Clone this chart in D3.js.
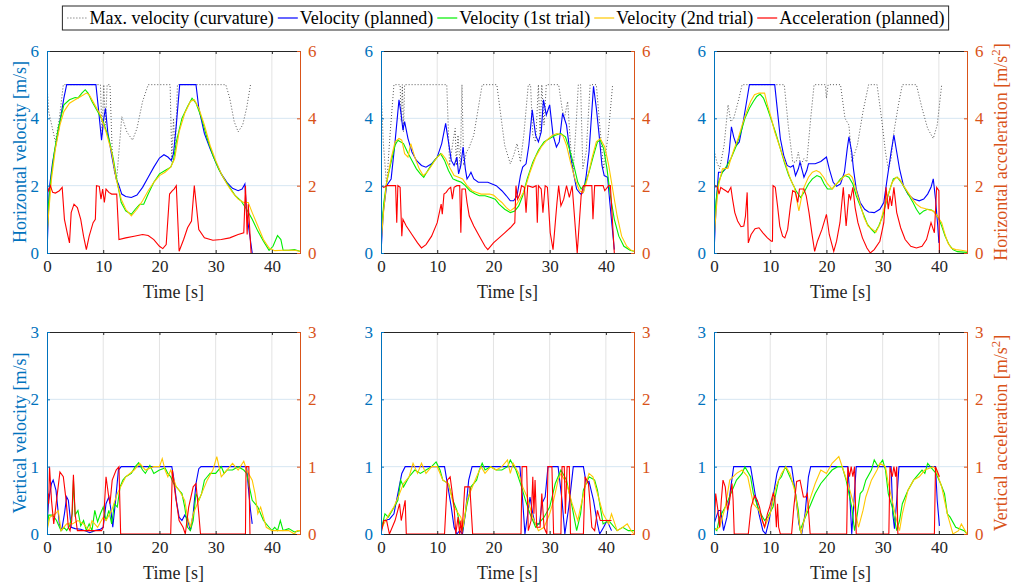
<!DOCTYPE html>
<html>
<head>
<meta charset="utf-8">
<script src="https://cdnjs.cloudflare.com/ajax/libs/d3/7.8.5/d3.min.js"></script>
<style>
body{margin:0;background:#fff}
svg{display:block}
text{font-family:"Liberation Serif","Times New Roman",serif}
</style>
</head>
<body>
<div id="chart"></div>
<script>
// ---- data: [time s, value] ----
// top row: horizontal velocity (left axis) / horizontal acceleration (right axis)
var h1_max = [[0,5],[0.3,4.2],[1.5,3.3],[2.2,4],[2.9,5],[9.5,5],[9.8,3.5],[10.1,5],[10.4,3.8],[10.7,5],[11.2,5],[11.6,3],[12,2.4],[12.4,2.2],[13.3,4.05],[14.2,3.6],[15.2,3.35],[16,3.7],[17,4.5],[18,5],[21.9,5],[22.2,2.7],[22.5,4],[22.8,2.9],[23.2,5],[31.8,5],[32.5,4.6],[33.3,3.9],[34,3.6],[34.8,3.8],[35.5,4.3],[36.2,5]];
var h1_plan = [[0,0],[0.4,1.9],[1,2.7],[2,3.6],[3,4.6],[3.5,5],[8.7,5],[9.2,4.2],[9.7,3.35],[10.1,4],[10.4,4.3],[10.8,3.6],[11.5,2.9],[12.3,2.2],[12.7,2.05],[13.3,1.75],[14,1.68],[15,1.65],[16,1.72],[17,1.95],[18,2.25],[19,2.55],[20,2.82],[20.8,2.92],[21.5,2.85],[22.1,2.75],[22.5,2.95],[23,3.8],[23.6,5],[26.5,5],[27,4.3],[28,3.55],[29,3.1],[30,2.7],[31,2.35],[32,2.1],[33,1.92],[34,1.85],[34.7,1.9],[35.2,2.05],[35.5,1.2],[36.5,0]];
var h1_t1 = [[0,0.5],[0.3,1.5],[0.7,2.2],[1.3,3.0],[2,3.7],[3,4.4],[4,4.55],[5,4.62],[5.5,4.6],[6.2,4.75],[6.8,4.85],[7.3,4.75],[8,4.5],[9,4.2],[10,3.9],[11,3.4],[11.8,2.8],[12.5,2.1],[13.2,1.5],[14,1.25],[15,1.15],[15.7,1.3],[16.5,1.45],[17.2,1.45],[18,1.75],[19,2.1],[20,2.35],[21,2.45],[22,2.55],[22.5,2.75],[23,3.3],[24,4.0],[25,4.35],[25.8,4.6],[26.5,4.45],[27.5,4.0],[28.5,3.4],[29.5,2.9],[30.5,2.5],[31.5,2.2],[32.5,1.95],[33.5,1.7],[34.5,1.55],[35.5,1.3],[36.5,1.0],[37.5,0.65],[38.5,0.35],[39.5,0.08],[40.2,0.2],[41,0.52],[41.6,0.4],[42,0.08],[43,0.08],[44,0.1],[45,0.05]];
var h1_t2 = [[0,0.5],[0.3,1.2],[0.8,2.2],[1.5,3.1],[2.3,3.8],[3,4.2],[4,4.45],[5,4.55],[6,4.65],[7,4.75],[7.5,4.7],[8.5,4.4],[9.5,4.1],[10.5,3.6],[11.5,3.0],[12.3,2.2],[13.2,1.6],[14,1.3],[15,1.1],[16,1.3],[17,1.55],[18,1.85],[19,2.1],[20,2.3],[21,2.4],[22,2.55],[22.7,2.8],[23.5,3.6],[24.5,4.15],[25.5,4.5],[26.2,4.55],[27,4.3],[28,3.8],[29,3.2],[30,2.75],[31,2.35],[32,2.05],[33,1.8],[34,1.6],[35,1.5],[35.8,1.5],[36.5,1.2],[37.5,0.8],[38.5,0.4],[39.5,0.15],[40.5,0.07],[42,0.08],[44,0.08],[45,0.05]];
var h1_acc = [[0,2.0],[0.3,1.85],[0.6,2.0],[1,1.8],[1.5,1.78],[2.2,1.85],[2.7,1.95],[3.1,1.0],[3.6,0.6],[4,0.3],[4.3,1.2],[4.8,1.45],[5.4,1.35],[6,1.0],[6.5,0.5],[7,0.1],[7.5,0.5],[8.2,0.9],[8.6,1.0],[8.8,2.0],[9.3,1.98],[9.6,1.6],[9.9,1.9],[10.2,1.5],[10.5,1.9],[11,1.8],[11.5,1.75],[12.4,1.75],[12.8,0.4],[14,0.45],[15.5,0.5],[17,0.55],[18,0.52],[19,0.4],[20,0.2],[20.6,0.13],[21.2,0.25],[21.8,1.75],[22.3,1.85],[22.6,1.9],[23,2.0],[23.5,0.05],[24.3,0.4],[25,0.75],[25.7,0.95],[26.2,2.0],[27,0.7],[28,0.45],[29.5,0.38],[31,0.4],[32.5,0.45],[34,0.55],[35,0.6],[35.3,2.0],[35.6,0.55],[35.8,1.45],[36.3,0]];

var h2_max = [[0,5],[0.4,3.3],[1,2.0],[1.6,3.5],[2.3,5],[3.4,5],[3.6,3.9],[3.8,5],[4.0,3.6],[4.2,5],[11.7,5],[12.2,2.6],[12.8,3.3],[13.2,3.7],[13.4,2.6],[13.7,3.5],[14.1,2.5],[14.4,5],[14.7,2.6],[15.2,3.0],[15.6,3.1],[16.5,3.5],[17.3,4.3],[18,5],[20.6,5],[21.3,4.1],[22,3.2],[23,2.65],[23.6,2.9],[24.2,3.25],[24.8,2.7],[25.4,3.5],[26.2,5],[26.6,5],[27.0,3.5],[27.5,3.3],[28,5],[28.3,3.5],[28.6,5],[29,3.8],[29.4,5],[31.6,5],[32.2,4.3],[32.6,4.0],[33.2,4.5],[33.8,3.0],[34.2,2.5],[34.7,3.8],[35.1,5],[35.5,5],[35.9,2.5],[36.5,3.0],[37.2,5],[38.3,5],[38.8,4.0],[39.6,2.5],[40.4,3.5],[41.2,5]];
var h2_plan = [[0,0],[0.4,1.2],[1,2.0],[1.8,2.2],[2.5,3.3],[3.2,4.55],[3.6,4.1],[3.9,3.65],[4.2,3.9],[4.8,3.4],[5.5,3.0],[6.3,2.75],[7.2,2.6],[8,2.55],[9,2.65],[10,2.85],[10.8,3.25],[11.5,3.85],[12,3.3],[12.5,2.75],[13,2.6],[13.5,2.85],[13.8,2.35],[14.2,2.6],[14.6,3.15],[15,2.5],[15.3,2.2],[15.7,2.3],[16,2.4],[16.5,2.2],[17.3,2.1],[19,2.1],[20.5,2.0],[21.5,1.85],[22.3,1.7],[23,1.55],[23.6,1.55],[24.2,1.7],[24.8,2.3],[25.2,2.55],[25.8,2.65],[26.3,3.2],[26.9,4.25],[27.5,3.5],[28,3.3],[28.5,3.6],[28.9,4.55],[29.4,4.1],[30,4.4],[30.6,3.5],[31.2,3.15],[31.7,3.3],[32.3,4.15],[33,3.8],[33.6,3.0],[34.2,2.4],[34.8,1.9],[35.5,1.75],[36,1.8],[36.5,2.3],[37,3.0],[37.8,4.95],[38.3,4.3],[38.8,3.5],[39.3,2.6],[39.7,2.3],[40.3,2.25],[40.7,1.5],[41.5,0.1]];
var h2_t1 = [[0,0.5],[0.5,1.5],[1,2.1],[1.8,2.7],[2.5,3.2],[3,3.35],[4,3.25],[4.7,3.0],[5.5,2.75],[6.3,2.5],[7,2.35],[7.6,2.25],[8.5,2.5],[9.3,2.7],[10,2.85],[10.6,2.95],[11.3,2.75],[12,2.45],[12.8,2.2],[13.5,2.15],[14.3,2.1],[15,2.0],[15.8,1.85],[16.8,1.75],[17.5,1.7],[18.5,1.7],[19.5,1.65],[20.3,1.6],[21,1.45],[22,1.3],[23,1.2],[23.8,1.25],[24.5,1.4],[25.2,1.7],[26,2.2],[27,2.7],[28,3.05],[29,3.3],[30,3.4],[31,3.5],[32,3.55],[32.8,3.45],[33.5,3.1],[34.3,2.6],[35,2.1],[35.6,1.9],[36.3,2.05],[37,2.4],[37.8,2.9],[38.5,3.3],[39,3.35],[39.6,3.1],[40.2,2.5],[40.8,1.7],[41.5,1.0],[42.3,0.5],[43.2,0.2],[44.3,0.08],[45,0.05]];
var h2_t2 = [[0,0.3],[0.5,1.3],[1,2.1],[1.8,2.8],[2.5,3.3],[3.2,3.4],[3.7,3.35],[4.2,2.95],[4.8,2.85],[5.3,3.25],[6,2.85],[6.8,2.5],[7.5,2.3],[8.2,2.4],[9,2.6],[10,2.85],[10.8,2.95],[11.5,2.8],[12.2,2.55],[13,2.3],[13.8,2.25],[14.5,2.2],[15.3,2.0],[16.2,1.85],[17,1.8],[17.8,1.75],[18.5,1.75],[19.3,1.75],[20,1.72],[20.8,1.6],[21.5,1.5],[22.3,1.35],[23,1.25],[23.8,1.35],[24.5,1.55],[25.5,1.85],[26.5,2.4],[27.5,2.85],[28.5,3.15],[29.5,3.35],[30.5,3.5],[31.3,3.55],[32.3,3.5],[33,3.2],[33.7,2.7],[34.5,2.2],[35.3,1.85],[36,1.8],[36.7,2.2],[37.5,2.8],[38.3,3.3],[39,3.4],[39.8,3.15],[40.5,2.6],[41.2,1.9],[42,1.1],[42.8,0.5],[43.7,0.2],[44.5,0.08],[45,0.05]];
var h2_acc = [[0,2.0],[0.5,1.95],[1,2.0],[2.6,2.0],[2.8,0.9],[3.0,2.0],[3.4,1.95],[3.7,0.5],[3.9,1.0],[4.5,0.8],[5.5,0.55],[6.5,0.3],[7.2,0.15],[8,0.25],[9,0.5],[10,0.9],[10.7,1.45],[10.9,1.15],[11.2,1.75],[11.6,1.8],[12,1.9],[12.4,1.95],[12.7,1.6],[13,1.95],[13.5,2.0],[14,2.0],[14.2,0.6],[14.4,1.9],[15,1.9],[15.3,1.5],[15.7,1.1],[16.5,0.8],[17.5,0.5],[18.5,0.2],[19,0.1],[20,0.3],[21,0.45],[22,0.6],[23,0.75],[23.8,0.9],[24,2.0],[24.3,1.6],[24.7,1.75],[25,2.0],[25.5,1.95],[25.8,1.2],[26.1,2.0],[27,1.95],[27.6,2.0],[27.8,0.9],[28,2.0],[28.5,1.9],[28.8,1.2],[29.2,2.0],[29.6,1.95],[30.1,0.6],[30.6,0.1],[31.3,1.5],[31.6,2.0],[32,1.4],[32.5,1.6],[33,2.0],[33.5,1.65],[34,2.0],[34.9,0],[35.6,1.7],[36,2.0],[37.5,2.0],[37.7,1.0],[38,2.0],[39.5,2.0],[39.8,1.85],[40.5,2.0],[40.8,2.0],[41.5,0]];

var h3_max = [[0,5],[0.1,3.0],[0.5,2.7],[1,2.5],[1.8,3.2],[2.5,4.4],[3,3.9],[3.5,4.0],[4.3,4.5],[5,5],[12.5,5],[13.2,3.8],[14,2.7],[14.6,2.7],[15,3.0],[15.4,2.6],[16,2.8],[16.5,2.7],[17.2,4],[17.8,5],[19.8,5],[20,4.6],[20.3,5],[22.5,5],[23.3,4.0],[24.0,3.8],[24.2,3.4],[24.5,2.7],[25.5,3.2],[26.5,4.2],[27.5,5],[29,5],[29.8,4.0],[30.5,3.0],[31,2.5],[31.5,2.8],[32,3.6],[32.8,4.4],[33.5,5],[36,5],[37,4.3],[38,3.7],[39,3.4],[39.7,3.8],[40.5,5]];
var h3_plan = [[0,0],[0.4,1.5],[0.8,2.4],[1.5,2.4],[2.3,2.55],[2.7,3.0],[3.1,3.75],[3.5,3.45],[4,3.2],[4.5,3.3],[5.2,3.9],[5.8,4.5],[6.3,5],[10.8,5],[11.3,4.2],[11.8,3.4],[12.4,2.9],[13,2.6],[13.6,2.55],[14.1,2.6],[14.5,2.3],[15,2.5],[15.3,2.7],[15.7,2.45],[16,2.25],[16.5,2.45],[16.8,2.65],[18,2.65],[19,2.72],[20,2.85],[20.5,2.5],[21.2,2.1],[21.8,1.98],[22.5,2.05],[23.2,2.4],[23.7,3.1],[24,3.45],[24.5,3.0],[24.8,2.5],[25.3,1.9],[26,1.5],[26.8,1.3],[27.5,1.22],[28.5,1.2],[29.5,1.3],[30.2,1.5],[30.8,2.2],[31.5,3.0],[32,3.5],[32.5,3.0],[33,2.5],[33.7,2.0],[34.5,1.75],[35.5,1.6],[36.5,1.55],[37.3,1.6],[38,1.75],[38.6,1.95],[39,2.2],[39.4,1.6],[39.8,0.8],[40,0.3]];
var h3_t1 = [[0,0.8],[0.4,1.6],[0.8,2.1],[1.5,2.4],[2.3,2.6],[3,2.8],[4,3.2],[4.8,3.6],[5.5,4.0],[6.3,4.3],[7,4.5],[7.6,4.65],[8.2,4.72],[8.8,4.6],[9.5,4.3],[10.3,3.9],[11,3.55],[11.8,3.1],[12.5,2.7],[13.3,2.3],[14,2.05],[14.6,1.85],[15.4,1.65],[16,1.8],[16.8,2.05],[17.5,2.2],[18.3,2.3],[19,2.25],[19.6,2.05],[20.2,1.9],[21,1.9],[21.8,2.05],[22.5,2.2],[23.3,2.3],[24,2.25],[24.7,2.05],[25.3,1.7],[26,1.4],[26.7,1.1],[27.3,0.85],[28,0.7],[28.6,0.6],[29.3,0.8],[30,1.1],[30.7,1.55],[31.3,1.9],[31.9,2.2],[32.6,2.25],[33.3,2.1],[34,1.9],[34.7,1.7],[35.4,1.5],[36,1.3],[36.6,1.15],[37.3,1.25],[38,1.3],[38.7,1.28],[39.3,1.2],[39.9,1.05],[40.5,0.8],[41.1,0.5],[41.8,0.25],[42.5,0.1],[43.3,0.04],[45,0.02]];
var h3_t2 = [[0,0.4],[0.4,1.3],[0.8,2.0],[1.5,2.5],[2.5,2.52],[3,2.8],[3.6,3.1],[4.3,3.4],[5,3.8],[5.8,4.2],[6.5,4.5],[7.2,4.7],[8,4.75],[9,4.75],[9.5,4.4],[10.2,4.0],[10.8,3.6],[11.5,3.25],[12.2,2.9],[13,2.5],[13.7,2.15],[14.3,1.95],[14.8,1.5],[15.1,1.25],[15.5,1.6],[16,1.95],[16.8,2.25],[17.5,2.4],[18.2,2.45],[18.8,2.4],[19.5,2.25],[20.2,2.05],[21,1.9],[21.7,2.05],[22.5,2.15],[23.2,2.3],[24,2.35],[24.6,2.25],[25.3,1.85],[26,1.45],[26.7,1.05],[27.4,0.8],[28.2,0.7],[28.8,0.62],[29.5,0.85],[30.2,1.3],[31,1.75],[31.7,2.1],[32.4,2.25],[33,2.2],[33.7,2.0],[34.5,1.8],[35.3,1.6],[36,1.45],[36.8,1.35],[37.5,1.32],[38.3,1.28],[39,1.25],[39.7,1.1],[40.5,0.9],[41,0.6],[41.6,0.3],[42.2,0.15],[43,0.1],[44,0.08],[45,0.05]];
var h3_acc = [[0,1.9],[0.3,2.0],[0.6,1.95],[0.9,1.75],[1.2,1.95],[1.6,1.9],[2.1,1.85],[2.5,1.8],[3,1.95],[3.3,1.6],[3.7,1.2],[4.2,0.95],[4.8,0.78],[5.3,0.8],[5.6,1.1],[5.9,1.8],[6.1,0.3],[6.6,0.55],[7.3,0.72],[8,0.75],[8.7,0.6],[9.5,0.45],[10.2,0.35],[10.4,0.35],[10.5,2.0],[10.9,1.95],[11.3,1.4],[11.7,0.8],[12.2,0.5],[12.6,0.45],[13.1,0.7],[13.6,1.4],[14,1.85],[14.5,1.8],[14.9,1.5],[15.2,1.9],[16,1.9],[16.4,1.7],[16.9,1.2],[17.4,0.6],[17.9,0.05],[18.4,0.35],[19.2,0.7],[20,1.15],[20.5,0.55],[21.3,0.05],[21.8,0.35],[22.4,0.9],[23,1.95],[23.5,0.8],[24,1.75],[24.3,1.6],[24.7,1.95],[25.1,1.35],[25.6,0.9],[26.4,0.45],[27.2,0.15],[27.8,0.0],[28.5,0.1],[29.5,0.35],[30.2,0.9],[30.6,1.95],[31,1.3],[31.3,1.7],[31.6,1.4],[32,1.95],[32.5,1.2],[33.2,0.75],[34,0.4],[35,0.2],[36,0.15],[37,0.2],[37.8,0.4],[38.6,0.9],[39.2,0.6],[39.6,1.95],[40,1.85],[40.1,0]];

// bottom row: vertical velocity (left axis) / vertical acceleration (right axis)
var v1_plan = [[0,0.15],[0.3,0.5],[0.8,0.75],[1.1,0.8],[1.6,0.65],[2.2,0.15],[2.6,0.05],[3.1,0.3],[3.5,0.55],[3.8,0.5],[4.3,0.1],[5,0.08],[6,0.07],[7,0.04],[7.6,0.02],[8.5,0.05],[9.5,0.07],[10,0.1],[10.5,0.45],[11,0.55],[11.3,0.4],[11.7,0.1],[12.2,0.5],[12.7,0.95],[13.2,1.0],[22.2,1.0],[22.6,0.8],[23,0.5],[23.5,0.25],[24,0.2],[24.5,0.28],[25,0.22],[25.5,0.05],[26,0.3],[26.5,0.75],[27,0.97],[27.4,1.0],[35.5,1.0],[35.8,0.7],[36.2,0.35],[36.5,0.15]];
var v1_t1 = [[0,0.05],[0.3,0.28],[1,0.28],[1.7,0.2],[2.5,0.05],[3,0.1],[3.5,0.05],[4,0.12],[4.5,0.3],[4.7,0.8],[5,0.28],[5.5,0.35],[6,0.12],[6.5,0.2],[7,0.05],[7.5,0.15],[8,0.05],[8.5,0.35],[9,0.18],[9.5,0.3],[10,0.4],[10.5,0.2],[11,0.35],[11.5,0.15],[12,0.45],[12.5,0.4],[13,0.7],[13.5,0.8],[14,0.85],[15,0.9],[15.7,1.0],[16.3,1.06],[17,0.95],[17.5,0.9],[18.3,1.02],[19,0.9],[20,0.95],[21,0.98],[21.5,0.9],[22,0.85],[22.5,0.75],[23,0.7],[23.5,0.65],[24,0.6],[24.5,0.4],[25,0.1],[25.5,0.05],[26,0.2],[26.5,0.6],[27,0.5],[27.5,0.6],[28,0.8],[28.5,0.85],[29,0.9],[30,0.9],[31,1.0],[31.5,0.9],[32,0.95],[33,0.95],[34,1.0],[35,0.95],[35.5,0.9],[36,0.7],[36.5,0.5],[37.5,0.4],[38.5,0.2],[39.5,0.1],[40,0.05],[40.5,0.1],[41,0.05],[41.5,0.2],[42,0.05],[43,0.08],[44,0.03],[45,0.05]];
var v1_t2 = [[0,0.05],[0.5,0.25],[1.5,0.3],[2,0.35],[2.5,0.05],[3.5,0.15],[4.5,0.15],[5.5,0.2],[6.5,0.15],[7.5,0.05],[8,0.2],[9,0.1],[10,0.25],[10.5,0.2],[11.5,0.35],[12.5,0.6],[14,0.85],[15.5,0.95],[16.5,1.05],[17.5,0.95],[19,1.0],[20,1.0],[20.5,1.12],[21,0.95],[21.5,0.85],[22,0.95],[23,0.7],[23.5,0.65],[24.5,0.5],[25,0.25],[25.5,0.1],[26,0.3],[27,0.5],[27.5,0.6],[28.5,0.8],[29.5,0.95],[30.2,1.15],[31,0.85],[32,0.95],[33,1.05],[34,0.95],[35,1.08],[35.5,0.95],[36.5,0.8],[37,0.6],[37.5,0.3],[38,0.4],[39,0.1],[40,0.05],[42,0.05],[43,0.05],[44,0.0],[44.5,0.05],[45,0.05]];
var v1_acc = [[0,0],[0.2,0.6],[0.3,0.45],[0.45,1.0],[0.8,0.5],[1.2,0.15],[1.7,0.5],[2.3,0.92],[2.9,0.85],[3.4,0.5],[3.8,0.1],[4.1,0.05],[4.4,0.2],[4.7,0.88],[5.0,0.3],[5.4,0.05],[9.7,0.05],[10.0,0.1],[10.5,0.85],[10.9,0.6],[11.2,0.45],[11.6,0.8],[12.3,0.95],[12.8,1.0],[13.1,0],[22,0],[22.3,0.95],[22.8,0.6],[23.5,0.2],[24.2,0.1],[24.6,0],[25.2,0.4],[26,0.7],[26.5,0.75],[27,0.3],[27.3,0],[35.3,0],[35.4,1.0],[35.9,1.0],[36.1,0]];

var v2_plan = [[0,0.05],[0.5,0.2],[1.5,0.22],[2.3,0.3],[3,0.6],[3.7,0.9],[4.3,1.0],[11.3,1.0],[11.7,0.8],[12.5,0.4],[13,0.1],[13.5,0.0],[14,0.05],[14.5,0.0],[15,0.3],[15.6,0.8],[16.2,1.0],[24.7,1.0],[25.2,0.5],[25.6,0.0],[26.1,0.3],[26.5,0.55],[27,0.3],[27.4,0.15],[28.2,0.15],[28.6,0.45],[29.2,0.55],[29.7,1.0],[31.5,1.0],[32.2,0.5],[32.7,0.0],[33.4,0.4],[34.2,1.0],[36,1.0],[36.5,0.75],[37,0.78],[37.8,0.5],[38.5,0.15],[38.9,0.0],[39.6,0.1],[40.2,0.2],[41,0.05]];
var v2_t1 = [[0,0.05],[0.7,0.3],[1.3,0.25],[2,0.35],[3,0.5],[3.5,0.8],[4,0.7],[5,0.85],[6,0.95],[7,0.9],[8,0.95],[9,1.0],[9.8,1.07],[10.5,0.95],[11,0.8],[12,0.75],[12.8,0.5],[13.5,0.35],[14,0.15],[14.5,0.05],[15.2,0.4],[16,0.7],[17,0.8],[17.5,0.95],[18,1.05],[18.5,0.95],[19.5,1.0],[20.5,0.95],[21.5,0.95],[22.5,1.0],[23,1.1],[24,0.95],[25,0.7],[25.7,0.5],[26.5,0.3],[27.5,0.1],[28,0.15],[29,0.25],[30,0.4],[31,0.75],[32,0.95],[33,0.8],[34,0.4],[34.8,0.05],[35.5,0.3],[36,0.65],[37,0.85],[38,0.8],[38.5,0.65],[39,0.4],[39.5,0.15],[40.5,0.2],[41.5,0.1],[42,0.05],[43,0.1],[44,0.05],[45,0.05]];
var v2_t2 = [[0,0.05],[0.5,0.15],[1.5,0.3],[2.3,0.4],[3.3,0.6],[4,0.75],[5,0.85],[5.7,1.05],[6.5,0.9],[7.2,1.05],[8,0.9],[9,1.0],[10,1.0],[11,0.8],[12,0.75],[13,0.4],[14.2,0.25],[14.6,0.1],[15.3,0.5],[16,0.65],[17,0.85],[17.8,1.0],[18.5,0.9],[19.5,1.0],[20.5,0.95],[21.5,1.0],[22.5,1.1],[23,0.9],[23.5,1.05],[24.5,0.9],[25.2,0.7],[26,0.55],[27,0.25],[28,0.05],[29,0.1],[30,0.3],[30.7,0.5],[31.5,0.8],[32,0.9],[33,0.75],[34,0.45],[35,0.2],[35.5,0.4],[36.3,0.7],[37,0.9],[37.7,0.85],[38.5,0.6],[39.5,0.3],[40.5,0.15],[41,0.3],[42,0.05],[43,0.1],[43.8,0.15],[44.5,0.05],[45,0.0]];
var v2_acc = [[0,0],[0.5,0.2],[1,0.2],[1.5,0.0],[2.5,0.2],[3.3,0.45],[3.6,0.2],[4.3,0.5],[4.5,0],[11.3,0],[11.8,0.8],[12.3,0.85],[13,0.4],[13.3,0],[13.7,0.25],[14,0],[14.2,0.2],[14.4,0],[14.9,0.7],[15.8,0.7],[16.3,0],[24.9,0],[25.1,1.0],[25.9,1.0],[26.2,0.05],[26.7,0.2],[27.0,0.85],[27.2,0.3],[27.4,0.8],[27.7,0.1],[28.3,0.1],[28.6,0.6],[29.0,0.1],[29.5,0],[29.7,1.0],[30.4,1.0],[30.7,0],[32.0,0],[32.2,1.0],[32.6,1.0],[32.8,0.3],[33.1,1.0],[33.5,1.0],[33.7,0],[36.0,0],[36.3,0.85],[36.9,0.75],[37.5,0.1],[38.0,0.05],[38.5,0.35],[39.0,0.2],[40.0,0.2],[40.5,0.2],[41,0.2]];

var v3_plan = [[0,0.15],[0.8,0.35],[1.2,0.35],[1.7,0.05],[2.3,0.25],[3,0.7],[3.5,1.0],[6.5,1.0],[7.3,0.6],[8,0.3],[8.7,0.05],[9.2,0.0],[9.8,0.2],[10.6,0.6],[11.2,0.9],[11.6,1.0],[13.8,1.0],[14.5,0.6],[15.1,0.15],[15.6,0.0],[16.2,0.3],[16.8,0.85],[17.2,1.0],[23.8,1.0],[24.2,0.5],[24.5,0.0],[24.9,0.5],[25.3,1.0],[31.5,1.0],[31.8,0.3],[32.1,0.08],[32.5,0.5],[32.9,1.0],[39.4,1.0],[39.7,0.5],[40.1,0.12]];
var v3_t1 = [[0,0.1],[0.5,0.05],[1,0.25],[2,0.4],[3,0.6],[4,0.8],[5,0.9],[5.5,1.0],[6.5,0.85],[7,0.6],[8,0.35],[9,0.2],[9.5,0.25],[10.5,0.4],[11,0.6],[11.5,0.8],[12,0.85],[12.7,1.0],[13.5,0.85],[14.3,0.7],[15,0.35],[15.3,0.05],[16,0.2],[17,0.4],[18,0.6],[19,0.75],[19.5,0.8],[20,0.85],[21,0.95],[22,1.0],[22.8,1.0],[23.5,0.8],[24.5,0.4],[25,0.05],[25.5,0.3],[26,0.6],[26.5,0.65],[27,0.8],[28,0.95],[28.5,1.1],[29.2,1.0],[30,1.1],[30.5,0.95],[31,0.6],[31.7,0.4],[32.5,0.05],[33,0.2],[33.5,0.45],[34.5,0.65],[35.5,0.8],[36.5,0.9],[37,0.95],[37.5,0.9],[38,1.05],[39,0.95],[39.5,0.9],[40.3,0.75],[41,0.6],[41.5,0.3],[42,0.25],[43,0.1],[44.5,0.05],[45,0.0]];
var v3_t2 = [[0,0.05],[1,0.1],[2,0.4],[2.8,0.8],[4,0.9],[5,0.95],[6,0.85],[7,0.45],[8,0.35],[9,0.1],[10,0.3],[11,0.7],[12,0.9],[12.8,1.0],[13.5,0.9],[14.5,0.6],[15,0.25],[15.5,0.0],[16,0.2],[17,0.5],[18,0.75],[19,0.95],[20,0.9],[21,1.05],[22.2,1.15],[23,0.95],[24,0.7],[25,0.4],[25.7,0.1],[26.5,0.35],[27,0.55],[28,0.8],[29,0.95],[29.5,1.05],[30.5,1.0],[31,0.75],[32.5,0.2],[33,0.05],[33.5,0.3],[34.5,0.65],[35.5,0.8],[36.5,0.85],[37.5,0.95],[39,1.0],[39.5,0.95],[40.5,0.7],[41,0.5],[41.5,0.3],[42.5,0.0],[43.5,0.05],[44,0.15],[45,0.0]];
var v3_acc = [[0,0],[0.3,0.6],[0.7,0.35],[1.0,0.1],[1.3,0.5],[1.6,0.8],[2,0.7],[2.4,0.35],[2.7,0.45],[3.2,0.75],[3.4,0.5],[3.6,0],[6.1,0],[6.6,0.4],[7.2,0.57],[7.7,0.5],[8.1,0.4],[8.6,0.2],[9,0.1],[9.5,0.3],[9.9,0.4],[10.5,0.6],[10.8,0.55],[11.1,0.1],[11.3,0.45],[11.5,0.1],[11.8,0],[13.8,0],[14.2,0.4],[14.7,0.78],[15.3,0.8],[15.9,0.55],[16.3,0.55],[16.6,0.6],[17.1,0],[23.6,0],[23.8,1.0],[24.1,0.85],[24.4,1.0],[24.7,0.85],[25.0,1.0],[25.3,0],[31.1,0],[31.3,1.0],[31.7,0.85],[32.0,1.0],[32.3,0.85],[32.5,1.0],[32.7,0],[39.2,0],[39.4,1.0],[40.1,0.85]];

var xTicks = [0, 10, 20, 30, 40];
var topTicks = [0, 2, 4, 6];
var botTicks = [0, 1, 2, 3];

var legendNames = ["Max. velocity (curvature)", "Velocity (planned)", "Velocity (1st trial)", "Velocity (2nd trial)", "Acceleration (planned)"];
var legendColors = ["#444", "#0000ff", "#00ee00", "#ffc800", "#ff0000"];

var panels = [
  {col:0,row:0,max:h1_max,plan:h1_plan,t1:h1_t1,t2:h1_t2,acc:h1_acc},
  {col:1,row:0,max:h2_max,plan:h2_plan,t1:h2_t1,t2:h2_t2,acc:h2_acc},
  {col:2,row:0,max:h3_max,plan:h3_plan,t1:h3_t1,t2:h3_t2,acc:h3_acc},
  {col:0,row:1,plan:v1_plan,t1:v1_t1,t2:v1_t2,acc:v1_acc},
  {col:1,row:1,plan:v2_plan,t1:v2_t1,t2:v2_t2,acc:v2_acc},
  {col:2,row:1,plan:v3_plan,t1:v3_t1,t2:v3_t2,acc:v3_acc}
];

var W = 1013, H = 587;
var colX = [47, 381, 714], rowY = [51, 332];
var pw = 253, ph = 202;
var blueAx = "#0072bd", orangeAx = "#d95319";

var svg = d3.select("#chart").append("svg").attr("width", W).attr("height", H);

panels.forEach(function(p, i){
  var x0 = colX[p.col], y0 = rowY[p.row];
  var ymax = p.row == 0 ? 6 : 3;
  var yt = p.row == 0 ? topTicks : botTicks;
  var x = d3.scaleLinear().domain([0,45]).range([0,pw]);
  var y = d3.scaleLinear().domain([0,ymax]).range([ph,0]);
  var g = svg.append("g").attr("transform","translate("+x0+","+y0+")");

  // grid
  g.selectAll(".vg").data(xTicks.slice(1)).enter().append("line")
    .attr("x1", d=>x(d)).attr("x2", d=>x(d)).attr("y1",0).attr("y2",ph)
    .attr("stroke","#e3e3e3").attr("stroke-width",1);
  g.selectAll(".hg").data(yt.slice(1,-1)).enter().append("line")
    .attr("x1",0).attr("x2",pw).attr("y1", d=>y(d)).attr("y2", d=>y(d))
    .attr("stroke","#d6e6f2").attr("stroke-width",1);

  g.append("clipPath").attr("id","clip"+i).append("rect").attr("width",pw).attr("height",ph+1);
  var plot = g.append("g").attr("clip-path","url(#clip"+i+")");
  var line = d3.line().x(d=>x(d[0])).y(d=>y(d[1]));

  if (p.max) plot.append("path").datum(p.max).attr("d",line).attr("fill","none")
    .attr("stroke","#444").attr("stroke-width",0.9).attr("stroke-dasharray","1,2");
  plot.append("path").datum(p.plan).attr("d",line).attr("fill","none").attr("stroke","#0000ff").attr("stroke-width",1.1);
  plot.append("path").datum(p.t1).attr("d",line).attr("fill","none").attr("stroke","#00ee00").attr("stroke-width",1.1);
  plot.append("path").datum(p.t2).attr("d",line).attr("fill","none").attr("stroke","#ffc800").attr("stroke-width",1.1);
  plot.append("path").datum(p.acc).attr("d",line).attr("fill","none").attr("stroke","#ff0000").attr("stroke-width",1.1);

  // axes
  var fmt = d3.format("d");
  var ax = g.append("g").attr("transform","translate(0,"+ph+")")
    .call(d3.axisBottom(x).tickValues(xTicks).tickSize(-3).tickPadding(7).tickFormat(fmt));
  var axT = g.append("g").call(d3.axisTop(x).tickValues(xTicks).tickSize(-3).tickFormat(""));
  var ayL = g.append("g").call(d3.axisLeft(y).tickValues(yt).tickSize(-3).tickPadding(8).tickFormat(fmt));
  var ayR = g.append("g").attr("transform","translate("+pw+",0)")
    .call(d3.axisRight(y).tickValues(yt).tickSize(-3).tickPadding(8).tickFormat(fmt));
  [ax, axT].forEach(function(a){
    a.select(".domain").attr("stroke","#262626");
    a.selectAll(".tick line").attr("stroke","#262626");
    a.selectAll("text").attr("fill","#262626");
  });
  ayL.select(".domain").attr("stroke",blueAx);
  ayL.selectAll(".tick line").attr("stroke",blueAx);
  ayL.selectAll("text").attr("fill",blueAx);
  ayR.select(".domain").attr("stroke",orangeAx);
  ayR.selectAll(".tick line").attr("stroke",orangeAx);
  ayR.selectAll("text").attr("fill",orangeAx);
  g.selectAll(".tick text").style("font-family","'Liberation Serif',serif").style("font-size","17px");
  g.selectAll(".domain").attr("stroke-width",1);

  g.append("text").attr("x",pw/2).attr("y",ph+45).attr("text-anchor","middle")
    .attr("fill","#262626").style("font-size","18px").text("Time [s]");

  if (p.col == 0) {
    g.append("text").attr("transform","translate(-21,"+(ph/2)+") rotate(-90)")
      .attr("text-anchor","middle").attr("fill",blueAx).style("font-size","18px")
      .text(p.row == 0 ? "Horizontal velocity [m/s]" : "Vertical velocity [m/s]");
  }
  if (p.col == 2) {
    var t = g.append("text").attr("transform","translate("+(pw+40)+","+(ph/2)+") rotate(-90)")
      .attr("text-anchor","middle").attr("fill",orangeAx).style("font-size","18px");
    t.append("tspan").text(p.row == 0 ? "Horizontal acceleration [m/s" : "Vertical acceleration [m/s");
    t.append("tspan").attr("dy",-7).style("font-size","13px").text("2");
    t.append("tspan").attr("dy",7).text("]");
  }
});

// legend
var lg = svg.append("g");
var sampleLen = 20, gapA = 2, gapB = 4;
var items = lg.selectAll("g.item").data(legendNames).enter().append("g");
items.append("text").attr("y",0).style("font-size","18px").attr("fill","#000").text(d=>d);
var pos = 0, xs = [];
items.each(function(d,i){
  var w = this.querySelector("text").getComputedTextLength();
  xs.push(pos);
  pos += sampleLen + gapA + w + gapB;
});
var total = pos - gapB;
var lx = 506 - total/2, ly = 18;
items.attr("transform",(d,i)=>"translate("+(lx+xs[i])+","+ly+")");
items.select("text").attr("x",sampleLen+gapA).attr("y",6);
items.append("line").attr("x1",0).attr("x2",sampleLen).attr("y1",0).attr("y2",0)
  .attr("stroke",(d,i)=>legendColors[i]).attr("stroke-width",(d,i)=>i==0?0.9:1.2)
  .attr("stroke-dasharray",(d,i)=>i==0?"1,2":null);
lg.insert("rect",":first-child").attr("x",lx-5).attr("y",6).attr("width",total+9).attr("height",24)
  .attr("fill","#fff").attr("stroke","#262626").attr("stroke-width",1);
</script>
</body>
</html>
